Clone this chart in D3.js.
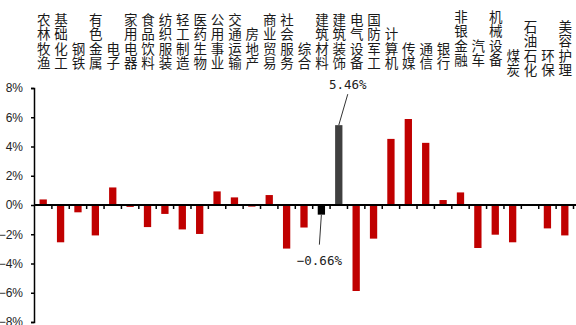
<!DOCTYPE html>
<html>
<head>
<meta charset="utf-8">
<script src="https://cdn.jsdelivr.net/npm/d3@7"></script>
<style>
  body { margin: 0; background: #fff; }
  svg { display: block; }
  .cat { font-family: "Noto Sans CJK SC", sans-serif; font-size: 13.5px; fill: #1a1a1a; }
  .ylab text { font-family: "Liberation Sans Narrow", "Liberation Sans", sans-serif; font-size: 12px; fill: #222; }
  .note { font-family: "DejaVu Sans Mono", monospace; font-size: 12.5px; fill: #222; }
</style>
</head>
<body>
<svg id="chart"></svg>
<script>
const width = 576, height = 325;

// industries, left to right
const categories = ['农林牧渔', '基础化工', '钢铁', '有色金属', '电子', '家用电器', '食品饮料', '纺织服装',
  '轻工制造', '医药生物', '公用事业', '交通运输', '房地产', '商业贸易', '社会服务', '综合', '建筑材料',
  '建筑装饰', '电气设备', '国防军工', '计算机', '传媒', '通信', '银行', '非银金融', '汽车', '机械设备',
  '煤炭', '石油石化', '环保', '美容护理'];

// weekly change, %
const values = [0.38, -2.55, -0.5, -2.08, 1.2, -0.13, -1.51, -0.61, -1.67, -1.98, 0.93, 0.52, -0.11,
  0.68, -2.98, -1.54, -0.66, 5.46, -5.88, -2.3, 4.52, 5.88, 4.25, 0.34, 0.86, -2.94, -2.03, -2.55,
  0.0, -1.6, -2.08];

const yTicks = [-8, -6, -4, -2, 0, 2, 4, 6, 8];

// labelled bars
const notes = [
  { cat: '建筑装饰', text: '5.46%' },
  { cat: '建筑材料', text: '−0.66%' }
];

const svg = d3.select('#chart').attr('width', width).attr('height', height);

const x0 = 34, x1 = 573;
const x = d3.scaleBand().domain(categories).range([x0, x1]).padding(0);
const xEdge = d3.scaleLinear().domain([0, categories.length]).range([x0, x1]);
const y = d3.scaleLinear().domain([-8, 8]).range([322, 88]);

function barColor(cat) {
  if (cat === '建筑装饰') return '#404040';
  if (cat === '建筑材料') return '#000000';
  return '#c00000';
}

// bars
const bw = x.bandwidth() * 0.42;
svg.append('g').selectAll('rect')
  .data(categories)
  .join('rect')
  .attr('x', d => x(d) + (x.bandwidth() - bw) / 2 + 0.5)
  .attr('y', (d, i) => y(Math.max(0, values[i])))
  .attr('width', bw)
  .attr('height', (d, i) => Math.abs(y(values[i]) - y(0)))
  .attr('fill', d => barColor(d));

// y axis
const yAxis = svg.append('g')
  .attr('class', 'ylab')
  .attr('transform', `translate(${x0},0)`)
  .call(d3.axisLeft(y).tickValues(yTicks).tickSize(3).tickPadding(8).tickFormat(d => d3.format('d')(d) + '%'));
yAxis.select('.domain').attr('stroke', '#000').attr('stroke-width', 1.5);
yAxis.selectAll('.tick line').attr('stroke', '#000').attr('stroke-width', 1.5);

// x axis at zero, ticks between categories
const xAxis = svg.append('g')
  .attr('transform', `translate(0,${y(0)})`)
  .call(d3.axisBottom(xEdge).tickValues(d3.range(1, categories.length + 1)).tickSize(4).tickSizeOuter(0).tickFormat(''));
xAxis.select('.domain').attr('stroke', '#000').attr('stroke-width', 2)
  .attr('d', `M${x0},0H${width}`);
xAxis.selectAll('.tick line').attr('stroke', '#000').attr('stroke-width', 1.5);

// stacked vertical category labels on top, one glyph per row
const rowGap = 14.3;
function labelBottom(i) {
  if (i >= 27) return 69;
  if (i >= 24) return 59;
  return 62;
}
const labels = svg.append('g');
categories.forEach((cat, i) => {
  const chars = Array.from(cat);
  const cx = x(cat) + x.bandwidth() / 2 + 1;
  chars.forEach((ch, k) => {
    labels.append('text')
      .attr('class', 'cat')
      .attr('x', cx)
      .attr('y', labelBottom(i) - (chars.length - 1 - k) * rowGap)
      .attr('text-anchor', 'middle')
      .attr('dominant-baseline', 'central')
      .text(ch);
  });
});

// callouts
notes.forEach(n => {
  const i = categories.indexOf(n.cat);
  const v = values[i];
  const cx = x(n.cat) + x.bandwidth() / 2 + 0.5;
  const up = v > 0;
  const lx = up ? cx + 9 : cx - 2;
  const ly = up ? y(v) - 31 : y(v) + 30;
  svg.append('line')
    .attr('x1', cx).attr('y1', y(v))
    .attr('x2', lx).attr('y2', ly)
    .attr('stroke', '#333').attr('stroke-width', 1);
  svg.append('text')
    .attr('class', 'note')
    .attr('x', lx)
    .attr('y', up ? ly - 5 : ly + 20)
    .attr('text-anchor', 'middle')
    .text(n.text);
});
</script>
</body>
</html>
